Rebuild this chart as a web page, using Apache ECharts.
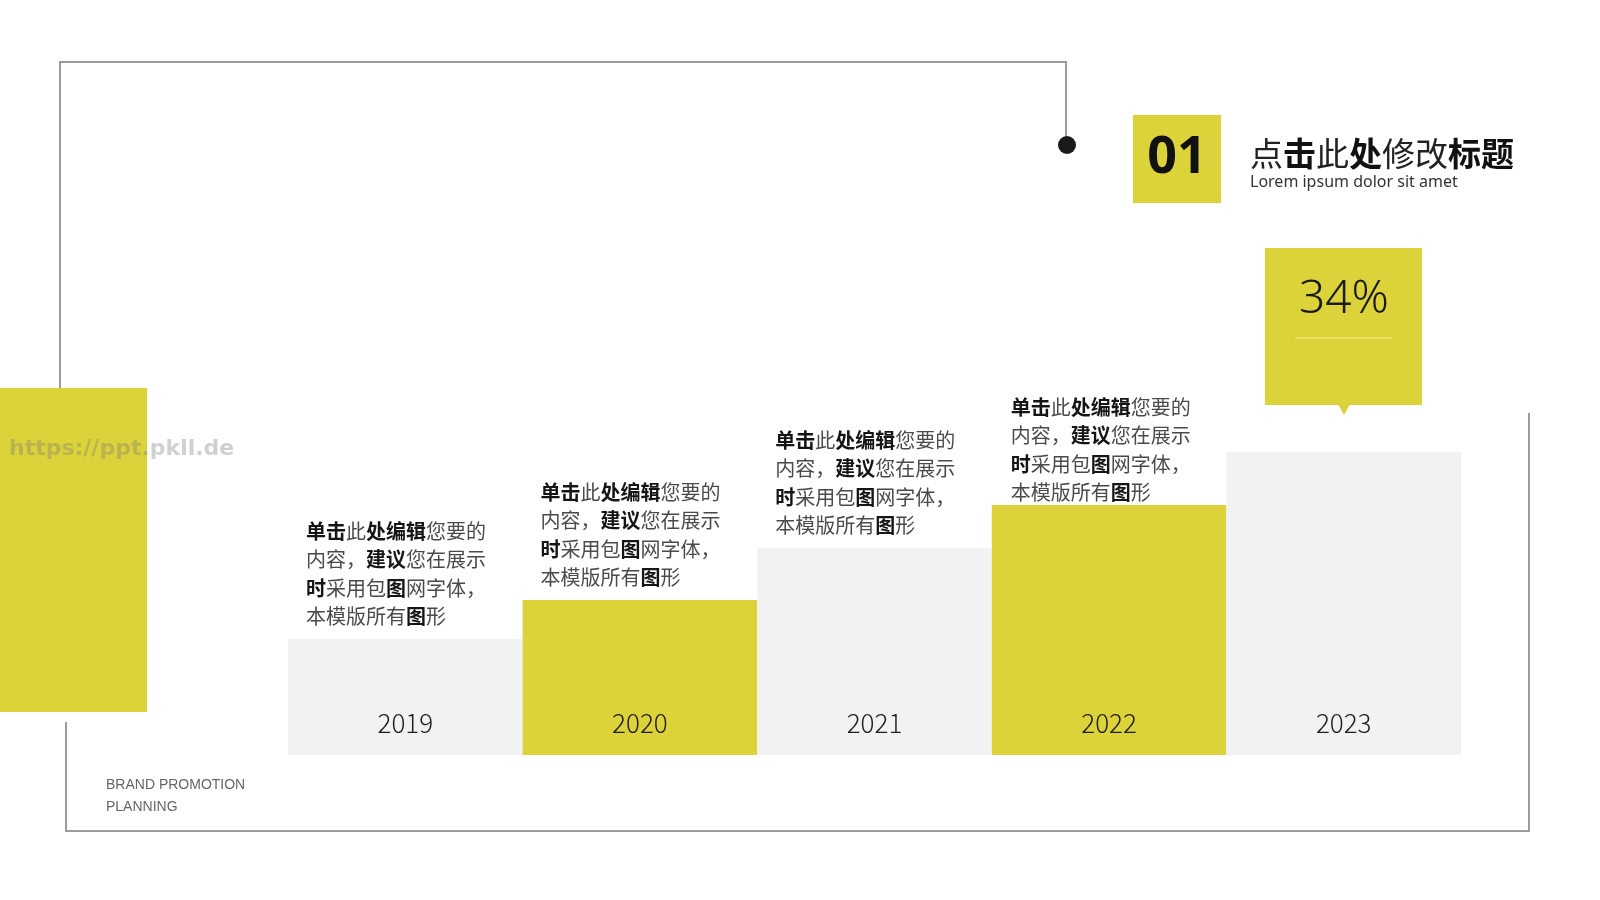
<!DOCTYPE html>
<html>
<head>
<meta charset="utf-8">
<script src="https://cdn.jsdelivr.net/npm/echarts@6/dist/echarts.min.js"></script>
<style>
html,body{margin:0;padding:0;background:#fff;}
#main{width:1600px;height:900px;}
</style>
</head>
<body>
<div id="main"></div>
<script>
// ---- data ----
const years = ['2019', '2020', '2021', '2022', '2023'];
const values = [116, 155, 207, 250, 303];
const highlightValue = '34%';
const descLines = ['单击此处编辑您要的', '内容，建议您在展示', '时采用包图网字体，', '本模版所有图形'];
const boldChars = '单击处编辑建议时图';
const titleText = '点击此处修改标题';
const titleBoldChars = '击处标题';
const subtitleText = 'Lorem ipsum dolor sit amet';
const sectionNumber = '01';
const brandLines = ['BRAND PROMOTION', 'PLANNING'];
const watermarkText = 'https://ppt.pkll.de';

// ---- styles ----
const YELLOW = '#DCD33B';
const GRAY = '#F2F2F2';
const LINE = '#9c9c9c';
const CJK = '"Noto Sans CJK SC", "Noto Sans", sans-serif';

function toRich(line, bolds) {
  let out = '', cur = null, buf = '';
  for (const ch of line) {
    const t = bolds.indexOf(ch) >= 0 ? 'b' : 'n';
    if (t !== cur && buf) { out += '{' + cur + '|' + buf + '}'; buf = ''; }
    cur = t; buf += ch;
  }
  if (buf) out += '{' + cur + '|' + buf + '}';
  return out;
}
const descRich = descLines.map(l => toRich(l, boldChars)).join('\n');
const titleRich = toRich(titleText, titleBoldChars);

const chart = echarts.init(document.getElementById('main'), null, {renderer: 'canvas'});

const descData = values.map((v, i) => {
  const item = {value: v};
  if (i === values.length - 1) item.label = {show: false};
  else if (i === 3) item.label = {position: [19, -112]};
  return item;
});

const option = {
  backgroundColor: '#ffffff',
  animation: false,
  grid: {left: 288, right: 139, top: 155, bottom: 145},
  xAxis: {
    type: 'category', data: years,
    axisLine: {show: false}, axisTick: {show: false}, axisLabel: {show: false}, splitLine: {show: false}
  },
  yAxis: {
    type: 'value', min: 0, max: 600,
    axisLine: {show: false}, axisTick: {show: false}, axisLabel: {show: false}, splitLine: {show: false}
  },
  series: [
    {
      type: 'bar', data: values, barCategoryGap: 0, z: 2,
      itemStyle: {color: p => (p.dataIndex % 2 ? YELLOW : GRAY)},
      label: {
        show: true, position: 'insideBottom', distance: 19,
        formatter: '{b}', fontSize: 26, lineHeight: 26, color: '#1e1e1e',
        fontFamily: CJK, fontWeight: 300
      }
    },
    {
      type: 'bar', data: descData, barGap: '-100%', barCategoryGap: 0, z: 3,
      itemStyle: {color: 'rgba(0,0,0,0)'},
      label: {
        show: true, position: [18, -122], align: 'left', verticalAlign: 'top',
        formatter: descRich,
        rich: {
          n: {fontSize: 20, lineHeight: 28.5, color: '#4a4a4a', fontFamily: CJK},
          b: {fontSize: 20, lineHeight: 28.5, color: '#151515', fontFamily: CJK, fontWeight: 'bold'}
        }
      }
    }
  ],
  graphic: [
    {type: 'polyline', shape: {points: [[60, 388], [60, 62], [1066, 62], [1066, 145]]},
     style: {stroke: LINE, lineWidth: 2, fill: null}, z: 1},
    {type: 'circle', shape: {cx: 1067, cy: 145, r: 9}, style: {fill: '#1a1a1a'}, z: 5},
    {type: 'polyline', shape: {points: [[66, 722], [66, 831], [1529, 831], [1529, 413]]},
     style: {stroke: LINE, lineWidth: 2, fill: null}, z: 1},
    {type: 'rect', shape: {x: 0, y: 388, width: 147, height: 324}, style: {fill: YELLOW}, z: 4},
    {type: 'text', x: 9, y: 449, z: 6,
     style: {text: watermarkText, font: 'bold 22px "DejaVu Sans", sans-serif', fill: 'rgba(120,120,120,0.35)', verticalAlign: 'middle', align: 'left'}},
    {type: 'text', x: 106, y: 785, z: 6,
     style: {text: brandLines[0], font: '14px "Liberation Sans", Arial, sans-serif', fill: '#666', verticalAlign: 'middle'}},
    {type: 'text', x: 106, y: 807, z: 6,
     style: {text: brandLines[1], font: '14px "Liberation Sans", Arial, sans-serif', fill: '#666', verticalAlign: 'middle'}},
    {type: 'rect', shape: {x: 1133, y: 115, width: 88, height: 88}, style: {fill: YELLOW}, z: 4},
    {type: 'text', x: 1177, y: 158, z: 6,
     style: {text: sectionNumber, font: 'bold 52px "Noto Sans", sans-serif', fill: '#111', align: 'center', verticalAlign: 'middle'}},
    {type: 'text', x: 1250, y: 153, z: 6,
     style: {text: titleRich, align: 'left', verticalAlign: 'middle',
       rich: {
         n: {fontSize: 33, fontFamily: CJK, fill: '#222', color: '#222'},
         b: {fontSize: 33, fontFamily: CJK, fill: '#111', color: '#111', fontWeight: 'bold'}
       }}},
    {type: 'text', x: 1250, y: 182, z: 6,
     style: {text: subtitleText, font: '16px "Noto Sans", sans-serif', fill: '#333', verticalAlign: 'middle'}},
    {type: 'rect', shape: {x: 1265, y: 248, width: 157, height: 157}, style: {fill: YELLOW}, z: 4},
    {type: 'polygon', shape: {points: [[1338, 404], [1350, 404], [1344, 415]]}, style: {fill: YELLOW}, z: 4},
    {type: 'line', shape: {x1: 1295, y1: 338, x2: 1392, y2: 338}, style: {stroke: '#f2ec8a', lineWidth: 1}, z: 5},
    {type: 'text', x: 1344, y: 300, z: 6,
     style: {text: highlightValue, font: '300 46px "Noto Sans", sans-serif', fill: '#1a1a1a', align: 'center', verticalAlign: 'middle'}}
  ]
};
chart.setOption(option);
</script>
</body>
</html>
